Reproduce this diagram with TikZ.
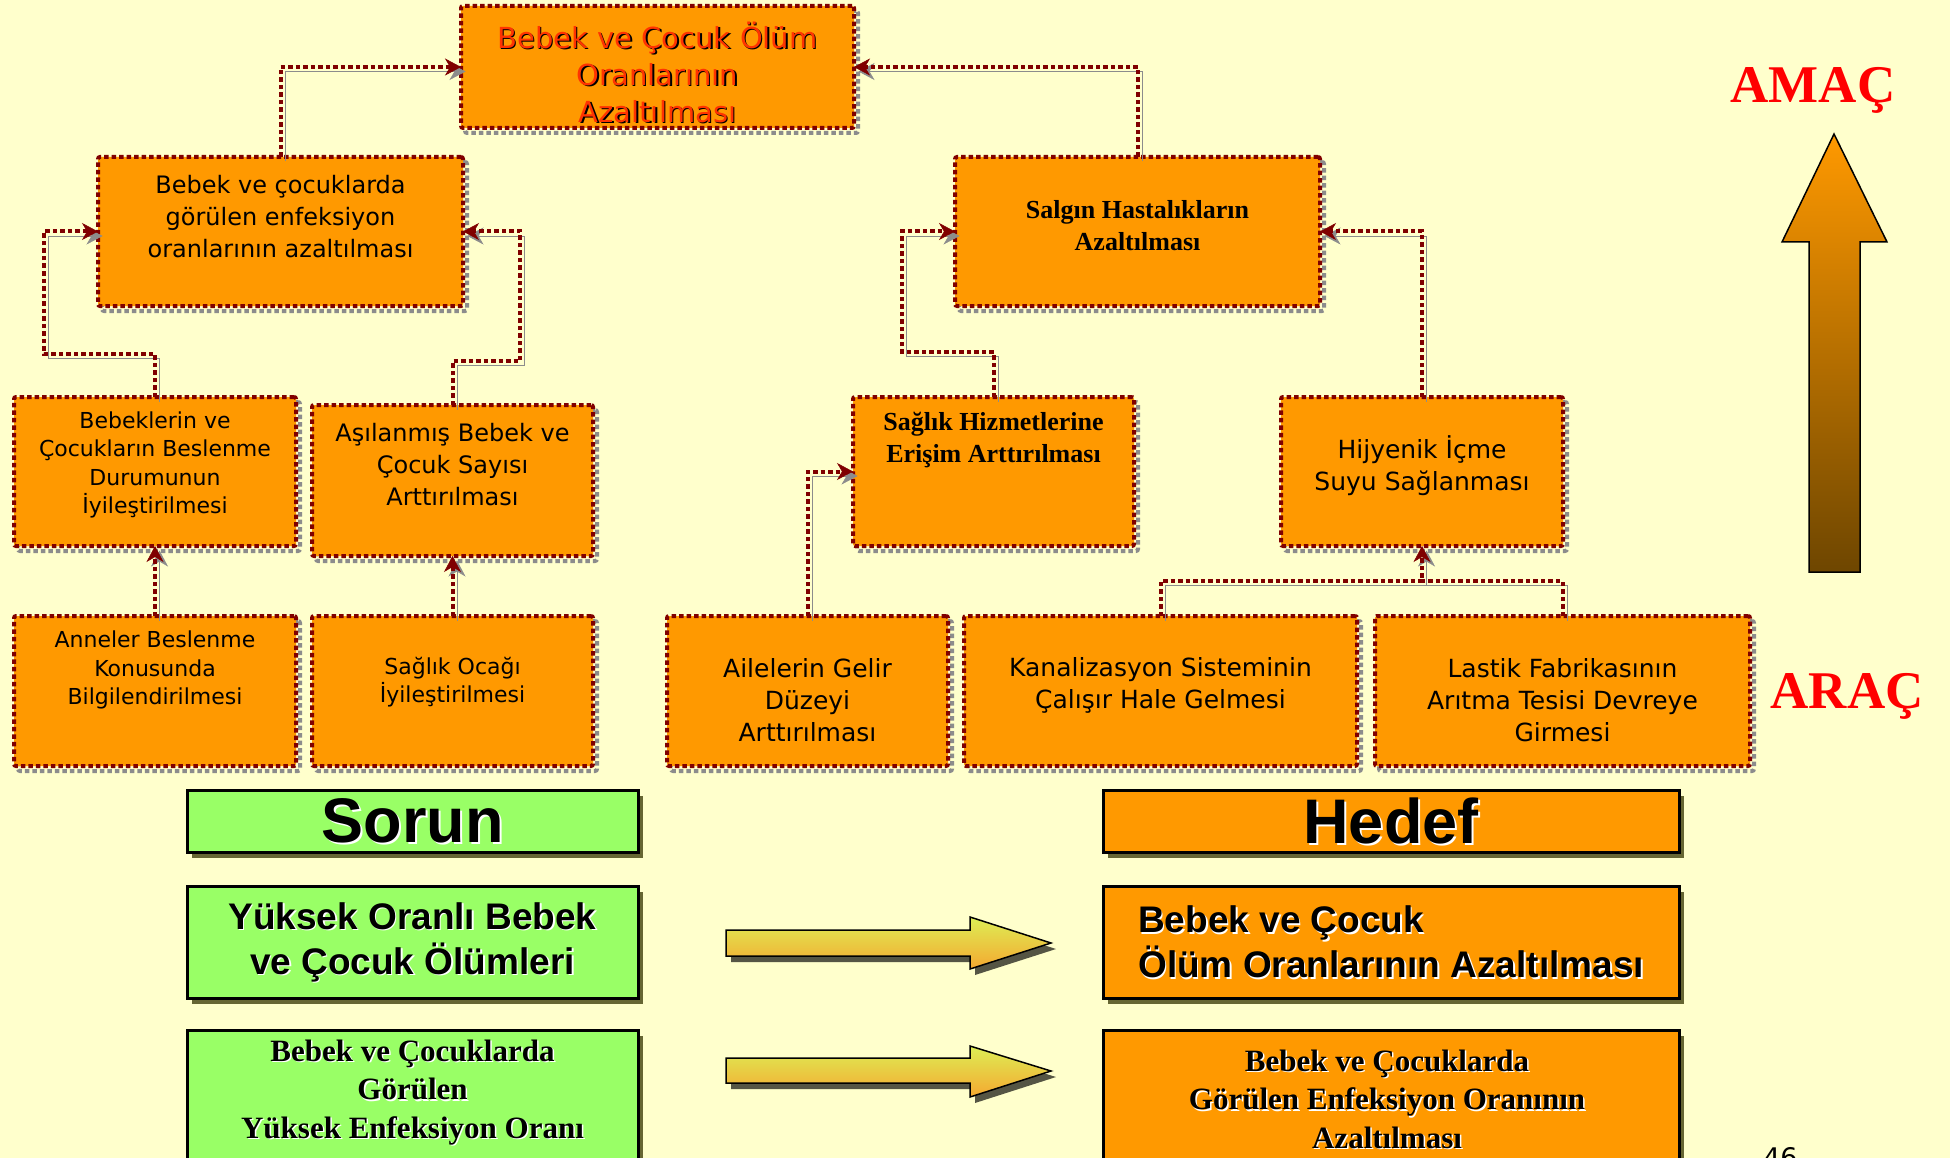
\documentclass[tikz,border=0pt]{standalone}
\usepackage{fontspec}
\setmainfont{DejaVu Sans}
\newfontfamily\tah{DejaVu Sans}
\newfontfamily\ari{Liberation Sans}
\newfontfamily\tms{Liberation Serif}
\usetikzlibrary{arrows.meta,shadows}
\definecolor{bg}{HTML}{FFFFCC}
\definecolor{org}{HTML}{FF9900}
\definecolor{dred}{HTML}{800000}
\definecolor{shd}{HTML}{8C8C8C}
\definecolor{grn}{HTML}{99FF66}
\definecolor{olv}{HTML}{666633}
\definecolor{ttl}{HTML}{FF3300}
\definecolor{brn}{HTML}{6E4600}
\definecolor{ylw}{HTML}{DDEE55}
\definecolor{yor}{HTML}{F5A830}
\definecolor{ashd}{HTML}{555544}
\newcommand\dropsh[3]{\leavevmode\rlap{\kern#1\raisebox{-#1}{\textcolor{#2}{#3}}}#3}
\newcommand\fs[2]{\fontsize{#1}{#2}\selectfont}
\tikzset{
  dots/.style={line width=4pt, dash pattern=on 4.5pt off 3pt},
  obox/.style={draw=dred, fill=org, dots, rounded corners=2pt, inner sep=0pt, outer sep=0pt,
    general shadow={draw=shd, dots, shadow xshift=4pt, shadow yshift=-5pt}},
  txt/.style={align=center, inner sep=0pt},
  conn/.style={draw=dred, dots, -{Stealth[length=16pt,width=17pt,inset=5pt,line width=0.5pt]},
    preaction={draw=shd, transform canvas={shift={(4.5pt,-4.5pt)}}}},
  cline/.style={draw=dred, dots, preaction={draw=shd, transform canvas={shift={(4.5pt,-4.5pt)}}}},
  gbox/.style={draw=black, line width=3pt, fill=grn, inner sep=0pt,
    general shadow={fill=olv, shadow xshift=5pt, shadow yshift=-6pt}},
  hbox/.style={draw=black, line width=3pt, fill=org, inner sep=0pt,
    general shadow={fill=olv, shadow xshift=5pt, shadow yshift=-6pt}},
  barrow/.style={draw=black, line width=1.5pt, top color=ylw, bottom color=yor,
    general shadow={fill=ashd, shadow xshift=5pt, shadow yshift=-6pt}},
}
\begin{document}
\begin{tikzpicture}[x=1pt,y=-1pt]
\useasboundingbox (0,0) rectangle (1950,1158);
\fill[bg] (0,0) rectangle (1950,1158);

% --- top goal
\node[obox, minimum width=393pt, minimum height=122pt] (top) at (657.5,67) {};
\node[txt, font=\tah\fs{29}{37}, text=ttl] (topT) at (657.5,73)
  {\dropsh{1.5pt}{black}{Bebek ve Çocuk Ölüm}\\\dropsh{1.5pt}{black}{Oranlarının}\\\dropsh{1.5pt}{black}{Azaltılması}};

% --- second level
\node[obox, minimum width=365pt, minimum height=149pt] (inf) at (280.5,231.5) {};
\node[txt, font=\tah\fs{24}{32}] (infT) at (280.5,217) {Bebek ve çocuklarda\\görülen enfeksiyon\\oranlarının azaltılması};
\node[obox, minimum width=365pt, minimum height=149pt] (salg) at (1137.5,231.5) {};
\node[txt, font=\tms\bfseries\fs{26}{32}] (salgT) at (1137.5,226) {Salgın Hastalıkların\\Azaltılması};

% --- third level
\node[obox, minimum width=282pt, minimum height=149pt] (bes) at (155,471.5) {};
\node[txt, font=\tah\fs{22}{28.5}] (besT) at (155,465) {Bebeklerin ve\\Çocukların Beslenme\\Durumunun\\İyileştirilmesi};
\node[obox, minimum width=281pt, minimum height=151pt] (asi) at (452.5,480.5) {};
\node[txt, font=\tah\fs{24}{32}] (asiT) at (452.5,465) {Aşılanmış Bebek ve\\Çocuk Sayısı\\Arttırılması};
\node[obox, minimum width=281pt, minimum height=149pt] (hiz) at (993.5,471.5) {};
\node[txt, font=\tms\bfseries\fs{26}{32}] (hizT) at (993.5,440) {Sağlık Hizmetlerine\\Erişim Arttırılması};
\node[obox, minimum width=282pt, minimum height=149pt] (hij) at (1422,471.5) {};
\node[txt, font=\tah\fs{25}{32}] (hijT) at (1422,466) {Hijyenik İçme\\Suyu Sağlanması};

% --- bottom level
\node[obox, minimum width=282pt, minimum height=150pt] (ann) at (155,691) {};
\node[txt, font=\tah\fs{22}{28.5}] (annT) at (155,670) {Anneler Beslenme\\Konusunda\\Bilgilendirilmesi};
\node[obox, minimum width=281pt, minimum height=150pt] (ocak) at (452.5,691) {};
\node[txt, font=\tah\fs{22}{28.5}] (ocakT) at (452.5,682) {Sağlık Ocağı\\İyileştirilmesi};
\node[obox, minimum width=281pt, minimum height=150pt] (gel) at (807.5,691) {};
\node[txt, font=\tah\fs{25}{32}] (gelT) at (807.5,700) {Ailelerin Gelir\\Düzeyi\\Arttırılması};
\node[obox, minimum width=393pt, minimum height=150pt] (kan) at (1160.5,691) {};
\node[txt, font=\tah\fs{25}{32}] (kanT) at (1160.5,685) {Kanalizasyon Sisteminin\\Çalışır Hale Gelmesi};
\node[obox, minimum width=375pt, minimum height=150pt] (las) at (1562.5,691) {};
\node[txt, font=\tah\fs{25}{32}] (lasT) at (1562.5,700) {Lastik Fabrikasının\\Arıtma Tesisi Devreye\\Girmesi};

% --- connectors
\coordinate (b1) at (44,354);
\coordinate (b2) at (520,361);
\coordinate (b3) at (902,352);
\coordinate (j) at (1422,581);
\draw[conn] (inf.north) |- (top.west);
\draw[conn] (salg.north) |- (top.east);
\draw[conn] (bes.north) |- (b1) |- (inf.west);
\draw[conn] (asi.north) |- (b2) |- (inf.east);
\draw[conn] (hiz.north) |- (b3) |- (salg.west);
\draw[conn] (hij.north) |- (salg.east);
\draw[conn] (ann.north) -- (bes.south);
\draw[conn] (ocak.north) -- (asi.south);
\draw[conn] (gel.north) |- (hiz.west);
\draw[cline] (las.north) |- (j);
\draw[conn] (kan.north) |- (j) -- (hij.south);

% --- AMAC / ARAC
\node[font=\tms\bfseries\fs{53}{60}, text=red, anchor=base, inner sep=0pt] (amac) at (1813,103) {AMAÇ};
\node[font=\tms\bfseries\fs{53}{60}, text=red, anchor=base, inner sep=0pt] (arac) at (1847,708) {ARAÇ};
\draw[draw=black, line width=1.5pt, top color=org, bottom color=brn]
  (1834,134) -- (1887,242) -- (1860,242) -- (1860,572) -- (1809,572) -- (1809,242) -- (1782,242) -- cycle;

% --- Sorun / Hedef
\node[gbox, minimum width=451pt, minimum height=62pt] (sorun) at (412.5,821) {};
\node[txt, font=\ari\bfseries\fs{63}{70}] (sorunT) at (412.5,822) {\dropsh{2pt}{white}{Sorun}};
\node[hbox, minimum width=576pt, minimum height=62pt] (hedef) at (1391,821) {};
\node[txt, font=\ari\bfseries\fs{63}{70}] (hedefT) at (1391,822) {\dropsh{2pt}{white}{Hedef}};

\node[gbox, minimum width=451pt, minimum height=112pt] (s1) at (412.5,942) {};
\node[txt, font=\ari\bfseries\fs{37}{45}] (s1T) at (412.5,943) {\dropsh{1.5pt}{white}{Yüksek Oranlı Bebek}\\\dropsh{1.5pt}{white}{ve Çocuk Ölümleri}};
\node[hbox, minimum width=576pt, minimum height=112pt] (h1) at (1391,942) {};
\node[txt, font=\ari\bfseries\fs{37}{45}, align=left, anchor=west] (h1T) at (1138,943) {\dropsh{1.5pt}{white}{Bebek ve Çocuk}\\\dropsh{1.5pt}{white}{Ölüm Oranlarının Azaltılması}};

\node[gbox, minimum width=451pt, minimum height=140pt] (s2) at (412.5,1100) {};
\node[txt, font=\tms\bfseries\fs{31}{38.5}] (s2T) at (412.5,1093) {\dropsh{1.5pt}{white}{Bebek ve Çocuklarda}\\\dropsh{1.5pt}{white}{Görülen}\\\dropsh{1.5pt}{white}{Yüksek Enfeksiyon Oranı}};
\node[hbox, minimum width=576pt, minimum height=140pt] (h2) at (1391,1100) {};
\node[txt, font=\tms\bfseries\fs{31}{38.5}] (h2T) at (1387,1100) {\dropsh{1.5pt}{white}{Bebek ve Çocuklarda}\\\dropsh{1.5pt}{white}{Görülen Enfeksiyon Oranının}\\\dropsh{1.5pt}{white}{Azaltılması}};

% --- block arrows
\draw[barrow] (726,930) -- (970,930) -- (970,917) -- (1051,943) -- (970,969) -- (970,956) -- (726,956) -- cycle;
\draw[barrow] (726,1058) -- (970,1058) -- (970,1046) -- (1051,1071) -- (970,1097) -- (970,1083) -- (726,1083) -- cycle;

% --- page number
\node[font=\tah\fs{27}{30}, anchor=north west, inner sep=0pt] (pg) at (1763,1147) {46};
\end{tikzpicture}
\end{document}
